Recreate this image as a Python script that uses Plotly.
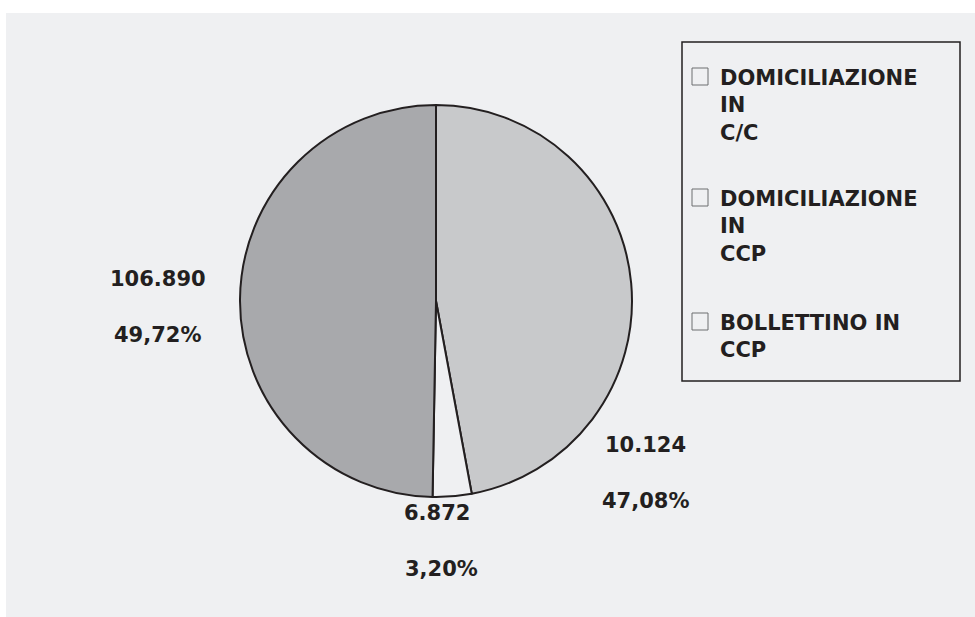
import plotly.graph_objects as go

W, H = 975, 617

categories = ["DOMICILIAZIONE<br>IN<br>C/C", "DOMICILIAZIONE<br>IN<br>CCP", "BOLLETTINO IN<br>CCP"]
percent_values = [47.08, 3.20, 49.72]
count_labels = ["10.124", "6.872", "106.890"]
percent_labels = ["47,08%", "3,20%", "49,72%"]
slice_colors = ["#c8c9cb", "#eff0f2", "#a8a9ac"]

BG = "#eff0f2"
INK = "#231f20"
FONT = "DejaVu Sans"

def px(x):
    return x / W

def py(y):
    return 1 - y / H

cx, cy, r = 436, 301, 196

fig = go.Figure(go.Pie(
    labels=categories,
    values=percent_values,
    sort=False,
    direction="clockwise",
    rotation=0,
    textinfo="none",
    hoverinfo="label+percent",
    marker=dict(colors=slice_colors, line=dict(color=INK, width=2)),
    domain=dict(x=[px(cx - r), px(cx + r)], y=[py(cy + r), py(cy - r)]),
    showlegend=False,
))

shapes = [
    dict(type="rect", xref="paper", yref="paper", x0=px(6), x1=1.0, y0=0.0, y1=py(13),
         fillcolor=BG, line=dict(width=0), layer="below"),
    dict(type="rect", xref="paper", yref="paper", x0=px(682), x1=px(960), y0=py(381), y1=py(42),
         fillcolor=BG, line=dict(color=INK, width=1.5), layer="below"),
]

annotations = []
# slice value labels
label_pos = [((645, 445), (645, 501)), ((437, 513), (441, 569)), ((158, 279), (157, 335))]
for (p1, p2), c, pc in zip(label_pos, count_labels, percent_labels):
    annotations.append(dict(x=px(p1[0]), y=py(p1[1]), xref="paper", yref="paper", text=c,
                            showarrow=False, xanchor="center", yanchor="middle",
                            font=dict(family=FONT, size=21, color=INK, weight="bold")))
    annotations.append(dict(x=px(p2[0]), y=py(p2[1]), xref="paper", yref="paper", text=pc,
                            showarrow=False, xanchor="center", yanchor="middle",
                            font=dict(family=FONT, size=21, color=INK, weight="bold")))

# manual legend
legend_tops = [64, 185, 309]
for top, cat in zip(legend_tops, categories):
    shapes.append(dict(type="rect", xref="paper", yref="paper", x0=px(692), x1=px(708),
                       y0=py(top + 21), y1=py(top + 4), fillcolor=BG,
                       line=dict(color="#6d6e71", width=1)))
    annotations.append(dict(x=px(718), y=py(top), xref="paper", yref="paper", text=cat,
                            showarrow=False, xanchor="left", yanchor="top", align="left",
                            font=dict(family=FONT, size=21, color=INK, weight="bold")))

fig.update_layout(
    width=W, height=H,
    margin=dict(l=0, r=0, t=0, b=0),
    paper_bgcolor="white",
    shapes=shapes,
    annotations=annotations,
)

fig.write_html("out.html")
